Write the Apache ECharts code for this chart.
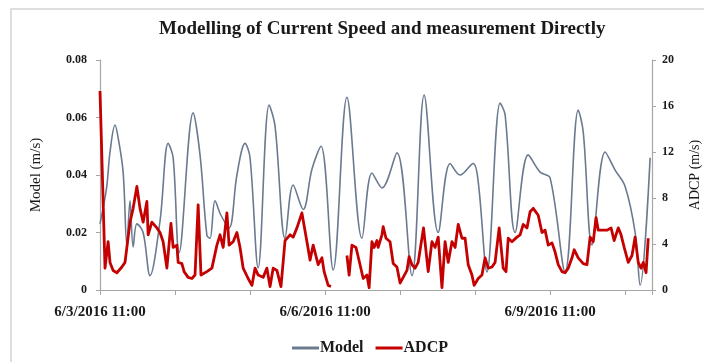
<!DOCTYPE html>
<html>
<head>
<meta charset="utf-8">
<script src="https://cdn.jsdelivr.net/npm/echarts@6/dist/echarts.min.js"></script>
<style>html,body{margin:0;padding:0;background:#fff}#c{width:704px;height:362px}</style>
</head>
<body>
<div id="c"></div>
<script>
// Hours since 6/3/2016 11:00
const xTickHours = [0, 72, 144];
const xTickLabels = ['6/3/2016 11:00', '6/6/2016 11:00', '6/9/2016 11:00'];

const modelHours = [0, 2.1, 3.2, 4.8, 5.8, 7.4, 8.6, 9.6, 10.6, 11.8, 13.8, 16, 19.2, 21.8, 23.4, 25.3, 29.8, 32, 34.2, 35.2, 36.8, 38.7, 41.3, 43.8, 46.4, 48, 50.6, 54.1, 56, 59.2, 61.8, 65, 67.8, 70.7, 74.6, 79, 83.8, 87, 90.2, 95, 99.8, 103.7, 108.2, 112, 115.2, 119.4, 121, 123.8, 128, 129.6, 132.8, 137, 140.8, 144, 148.8, 153, 154.6, 157.4, 161.6, 164.8, 168, 171.2, 172.8, 176];
const modelValues = [0.023, 0.0355, 0.048, 0.0574, 0.053, 0.041, 0.0157, 0.031, 0.015, 0.023, 0.020, 0.005, 0.024, 0.051, 0.046, 0.013, 0.0616, 0.047, 0.019, 0.018, 0.031, 0.026, 0.0216, 0.040, 0.051, 0.046, 0.0077, 0.0643, 0.057, 0.018, 0.0365, 0.028, 0.042, 0.050, 0.007, 0.067, 0.018, 0.0407, 0.0355, 0.0477, 0.005, 0.0678, 0.020, 0.044, 0.040, 0.044, 0.0376, 0.0063, 0.065, 0.061, 0.020, 0.047, 0.041, 0.039, 0.0063, 0.0626, 0.055, 0.0157, 0.048, 0.0417, 0.036, 0.020, 0.0017, 0.046];

const adcpHours = [0, 1.6, 2.6, 3.2, 4.2, 5.4, 7, 8, 8.6, 9.6, 10.6, 11.8, 12.8, 13.8, 15, 15.4, 16.6, 18.2, 19.2, 20.2, 21.4, 22.7, 23.4, 24.6, 25, 26.2, 26.9, 28.2, 29.4, 30.4, 31.4, 32.3, 34.2, 35.8, 37.4, 38.4, 39.4, 40.6, 41.3, 42.6, 43.8, 44.8, 45.8, 47.4, 48.6, 49.6, 50.6, 52.2, 53.4, 54.4, 55.4, 56.6, 57.9, 59.2, 60.8, 61.8, 63, 64.6, 66.2, 67.2, 68.2, 69.8, 71, 71.7, 73, 73.9, 76.5, 79, 79.7, 80.6, 81.9, 83.2, 84.2, 85.4, 86.1, 87, 87.7, 88.6, 89, 90.2, 90.6, 91.5, 92.8, 93.8, 95, 96, 97, 98.2, 98.9, 99.8, 100.8, 101.8, 103.5, 105, 106.2, 107.2, 108.2, 109.4, 110.4, 111.4, 112.6, 113.6, 114.6, 115.8, 116.8, 117.8, 119, 119.7, 121, 122.2, 123.2, 124.2, 125.4, 126.4, 127.7, 129, 129.9, 130.6, 131.8, 133.4, 134.4, 135.4, 136.6, 137.6, 138.6, 140.2, 141.4, 142.4, 143.4, 144.6, 145.6, 146.6, 147.8, 148.8, 149.8, 151, 151.7, 153, 154.6, 155.8, 156.8, 157.8, 158.7, 159.4, 161, 162.2, 163.5, 164.5, 165.8, 166.7, 167.7, 169, 170.2, 171.2, 172.2, 173.1, 173.8, 174.7, 175.4];
const adcpValues = [17.3, 1.9, 4.2, 2.4, 1.7, 1.5, 2.0, 2.4, 2.3, 5.9, 7.1, 9.0, 7.1, 5.9, 7.7, 4.8, 5.9, 5.4, 5.0, 4.2, 1.9, 5.8, 3.7, 3.9, 2.4, 2.3, 1.6, 1.1, 1.0, 1.3, 7.4, 1.3, 1.6, 1.9, 3.9, 4.8, 3.7, 6.7, 3.9, 4.2, 5.0, 3.7, 1.9, 1.0, 0.4, 1.9, 1.3, 1.1, 1.9, 0.3, 1.9, 1.7, 0.3, 4.3, 4.8, 4.6, 5.4, 6.7, 4.2, 2.6, 3.9, 2.2, 2.8, 1.6, 0.4, 0.3, null, 3.0, 1.3, 3.9, 3.7, 2.2, 1.0, 1.3, 0.2, 4.2, 3.7, 4.3, 3.7, 4.8, 5.5, 4.5, 4.2, 2.3, 2.0, 0.6, 1.1, 1.7, 2.9, 2.2, 1.9, 2.4, 5.4, 1.6, 4.2, 3.7, 4.6, 0.2, 4.2, 2.4, 4.2, 3.7, 5.7, 4.5, 4.5, 2.2, 1.3, 0.4, 1.0, 1.3, 2.8, 1.9, 2.0, 2.4, 5.4, 1.9, 1.6, 4.5, 4.2, 4.6, 4.8, 5.7, 5.4, 6.8, 7.1, 6.5, 5.0, 5.2, 3.9, 4.1, 3.3, 2.2, 1.6, 1.5, 1.9, 2.8, 3.5, 2.8, 2.3, 2.2, 4.6, 4.2, 6.3, 5.2, 5.2, 5.2, 5.4, 4.3, 5.4, 4.8, 3.7, 2.4, 3.0, 4.6, 2.4, 1.9, 2.4, 1.5, 4.5];

const modelData = modelHours.map((h, i) => [h, modelValues[i]]);
const adcpData = adcpHours.map((h, i) => [h, adcpValues[i] === null ? '-' : adcpValues[i]]);

const serif = '"Liberation Serif", "Times New Roman", serif';
const axisGray = '#a6a6a6';
const modelColor = '#6b7a8f';
const adcpColor = '#c40000';

const chart = echarts.init(document.getElementById('c'), null, {renderer: 'canvas'});
chart.setOption({
  backgroundColor: '#ffffff',
  animation: false,
  title: {
    text: 'Modelling of Current Speed and measurement Directly',
    left: 154, top: 15,
    textStyle: {fontFamily: serif, fontWeight: 'bold', fontSize: 19, color: '#1a1a1a'}
  },
  legend: {
    left: 287, top: 335,
    itemWidth: 27, itemHeight: 3, itemGap: 12,
    textStyle: {fontFamily: serif, fontWeight: 'bold', fontSize: 16, color: '#1a1a1a', padding: [0, 0, 0, -4]},
    data: [
      {name: 'Model', icon: 'rect', itemStyle: {color: modelColor}},
      {name: 'ADCP', icon: 'rect', itemStyle: {color: adcpColor}}
    ]
  },
  graphic: [{
    type: 'rect', silent: true, z: -1,
    shape: {x: 11, y: 9, width: 720, height: 380},
    style: {fill: 'none', stroke: '#d4d4d4', lineWidth: 1.5}
  }],
  grid: {left: 100, right: 52, top: 60, bottom: 72, containLabel: false, outerBoundsMode: 'none'},
  xAxis: {
    type: 'value', min: 0, max: 176.6, interval: 24,
    splitLine: {show: false},
    axisLine: {lineStyle: {color: axisGray, width: 1.2}},
    axisTick: {show: true, length: 5, lineStyle: {color: axisGray}},
    axisLabel: {
      margin: 15, fontFamily: serif, fontWeight: 'bold', fontSize: 15, color: '#1a1a1a',
      formatter: v => { const k = xTickHours.indexOf(v); return k >= 0 ? xTickLabels[k] : ''; }
    }
  },
  yAxis: [{
    type: 'value', min: 0, max: 0.08, interval: 0.02,
    name: 'Model (m/s)', nameLocation: 'middle', nameGap: 56, nameRotate: 90,
    nameTextStyle: {fontFamily: serif, fontSize: 15, color: '#1a1a1a'},
    splitLine: {show: false},
    axisLine: {show: true, lineStyle: {color: axisGray, width: 1.2}},
    axisTick: {show: true, length: 4, lineStyle: {color: axisGray}},
    axisLabel: {margin: 13, fontFamily: serif, fontWeight: 'bold', fontSize: 12, color: '#1a1a1a'}
  }, {
    type: 'value', min: 0, max: 20, interval: 4, position: 'right',
    name: 'ADCP (m/s)', nameLocation: 'middle', nameGap: 36, nameRotate: 90,
    nameTextStyle: {fontFamily: serif, fontSize: 14, color: '#1a1a1a'},
    splitLine: {show: false},
    axisLine: {show: true, lineStyle: {color: axisGray, width: 1.2}},
    axisTick: {show: true, length: 4, lineStyle: {color: axisGray}},
    axisLabel: {margin: 10, fontFamily: serif, fontWeight: 'bold', fontSize: 12, color: '#1a1a1a'}
  }],
  series: [{
    name: 'Model', type: 'line', yAxisIndex: 0, data: modelData,
    symbol: 'none', smooth: 0.35,
    lineStyle: {color: modelColor, width: 1.6},
    itemStyle: {color: modelColor}
  }, {
    name: 'ADCP', type: 'line', yAxisIndex: 1, data: adcpData,
    symbol: 'none', connectNulls: false,
    lineStyle: {color: adcpColor, width: 2.8, join: 'round'},
    itemStyle: {color: adcpColor}
  }]
});
</script>
</body>
</html>
